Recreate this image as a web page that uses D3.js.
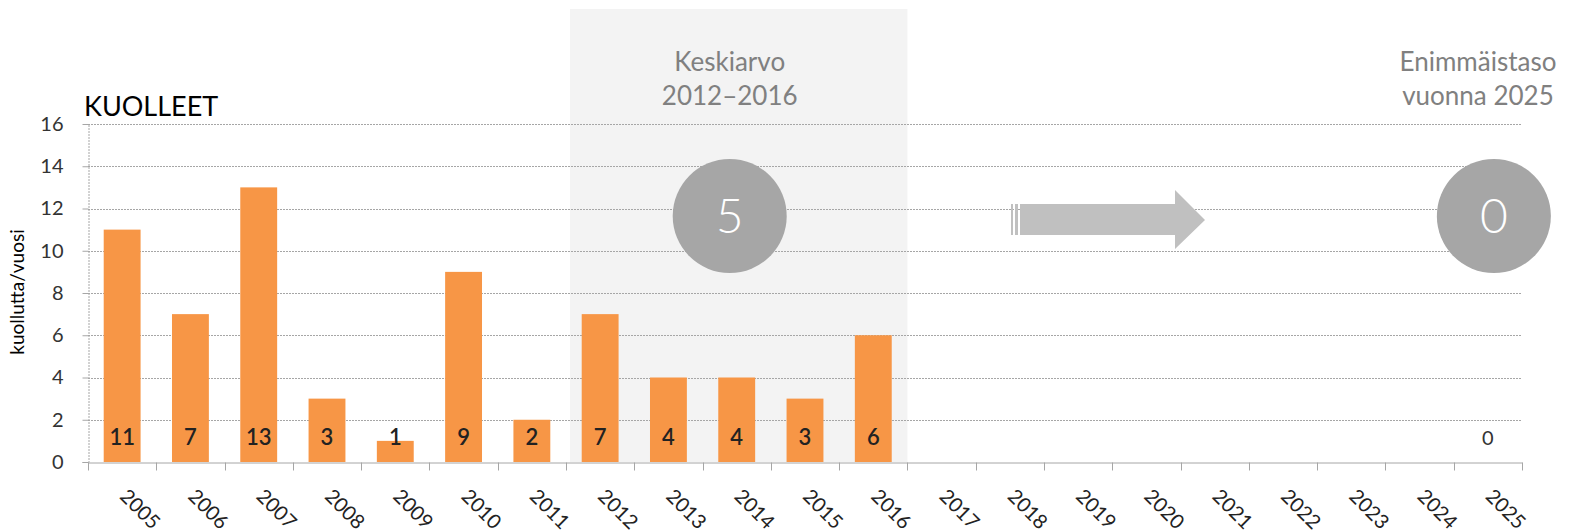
<!DOCTYPE html>
<html>
<head>
<meta charset="utf-8">
<script src="https://cdn.jsdelivr.net/npm/d3@7"></script>
<style>
  body { margin: 0; background: #fff; }
  svg text { font-family: Lato, "Open Sans", sans-serif; }
</style>
</head>
<body>
<div id="chart"></div>
<script>
const width = 1569;
const height = 532;

// data
var years = ["2005", "2006", "2007", "2008", "2009", "2010", "2011", "2012", "2013", "2014", "2015",
  "2016", "2017", "2018", "2019", "2020", "2021", "2022", "2023", "2024", "2025"];
var deaths = [11, 7, 13, 3, 1, 9, 2, 7, 4, 4, 3, 6, null, null, null, null, null, null, null, null, 0];
var yTicks = [0, 2, 4, 6, 8, 10, 12, 14, 16];
var avgYears = ["2012", "2016"];
var avgValue = 5;
var targetYear = "2025";
var targetValue = 0;

var margin = {left: 88, right: 47, top: 124, bottom: 70};

var xScale = d3.scaleBand()
  .domain(years)
  .range([margin.left, width - margin.right])
  .paddingInner(0.46)
  .paddingOuter(0.23);
var xBand = d3.scaleBand().domain(years).range([margin.left, width - margin.right]);
var yScale = d3.scaleLinear().domain([0, 16]).range([height - margin.bottom, margin.top]);

var svg = d3.select("#chart").append("svg")
  .attr("width", width)
  .attr("height", height);

// shaded average period
var x0 = xBand(avgYears[0]);
var x1 = xBand(avgYears[1]) + xBand.bandwidth();
svg.append("rect")
  .attr("x", x0 + 4)
  .attr("y", 9)
  .attr("width", x1 - x0 - 4)
  .attr("height", yScale(0) - 9)
  .attr("fill", "#f3f3f3");

// grid lines
svg.append("g").selectAll("line")
  .data(yTicks.filter(d => d > 0))
  .enter().append("line")
  .attr("x1", margin.left)
  .attr("x2", width - margin.right)
  .attr("y1", d => Math.round(yScale(d)) + 0.5)
  .attr("y2", d => Math.round(yScale(d)) + 0.5)
  .attr("stroke", "#a6a6a6")
  .attr("stroke-dasharray", "2,1");

// y axis
var yAxis = d3.axisLeft(yScale).tickValues(yTicks).tickSize(6).tickPadding(19);
var gy = svg.append("g")
  .attr("transform", "translate(" + (margin.left + 0.5) + ",0)")
  .call(yAxis);
gy.select(".domain").attr("stroke", "#a6a6a6").attr("stroke-dasharray", "2,1");
gy.selectAll(".tick line").attr("stroke", "#a6a6a6");
gy.selectAll(".tick text")
  .attr("fill", "#333")
  .style("font-size", "20px");

// x axis: ticks on category boundaries
var xAxis = d3.axisBottom(xBand).tickSize(0).tickFormat("");
var gx = svg.append("g")
  .attr("transform", "translate(0," + (Math.round(yScale(0)) + 0.5) + ")")
  .call(xAxis);
gx.select(".domain").attr("stroke", "#a6a6a6");
gx.append("g").selectAll("line")
  .data(years.concat(["end"]))
  .enter().append("line")
  .attr("x1", (d, i) => Math.round(margin.left + i * xBand.step()) + 0.5)
  .attr("x2", (d, i) => Math.round(margin.left + i * xBand.step()) + 0.5)
  .attr("y1", 0)
  .attr("y2", 8)
  .attr("stroke", "#a6a6a6");

// x labels rotated
svg.append("g").selectAll("text")
  .data(years)
  .enter().append("text")
  .attr("transform", d => "translate(" + (xBand(d) + xBand.bandwidth() / 2 + 18) + ",509) rotate(45)")
  .attr("text-anchor", "middle")
  .attr("dy", "0.35em")
  .style("font-size", "20px")
  .attr("fill", "#222")
  .text(d => d);

// bars
svg.append("g").selectAll("rect")
  .data(years.map((y, i) => ({year: y, v: deaths[i]})).filter(d => d.v))
  .enter().append("rect")
  .attr("x", d => xScale(d.year))
  .attr("y", d => yScale(d.v))
  .attr("width", xScale.bandwidth())
  .attr("height", d => yScale(0) - yScale(d.v))
  .attr("fill", "#f79646");

// bar value labels
svg.append("g").selectAll("text")
  .data(years.map((y, i) => ({year: y, v: deaths[i]})).filter(d => d.v !== null))
  .enter().append("text")
  .attr("x", d => xBand(d.year) + xBand.bandwidth() / 2)
  .attr("y", 445)
  .attr("text-anchor", "middle")
  .attr("fill", d => d.v === 0 ? "#333" : "#222")
  .style("font-size", d => d.v === 0 ? "20px" : "22px")
  .style("font-weight", d => d.v === 0 ? "normal" : "600")
  .text(d => d.v);

// title and axis label
svg.append("text")
  .attr("x", 84)
  .attr("y", 116)
  .style("font-size", "27px")
  .attr("fill", "#000")
  .text("KUOLLEET");

svg.append("text")
  .attr("transform", "translate(24,292) rotate(-90)")
  .attr("text-anchor", "middle")
  .style("font-size", "19px")
  .attr("fill", "#000")
  .text("kuollutta/vuosi");

// average annotation
var avgX = (x0 + x1) / 2 - 7;
svg.append("text").attr("x", avgX).attr("y", 71).attr("text-anchor", "middle")
  .style("font-size", "26px").attr("fill", "#808080").text("Keskiarvo");
svg.append("text").attr("x", avgX).attr("y", 105).attr("text-anchor", "middle")
  .style("font-size", "26px").attr("fill", "#808080").text(avgYears[0] + "–" + avgYears[1]);
svg.append("circle").attr("cx", avgX).attr("cy", 216).attr("r", 57).attr("fill", "#a6a6a6");
svg.append("text").attr("x", avgX).attr("y", 216).attr("dy", "0.36em").attr("text-anchor", "middle")
  .style("font-size", "48px").style("font-weight", 300).attr("fill", "#fff").text(avgValue);

// target annotation
var tX = xBand(targetYear) + xBand.bandwidth() / 2 + 6;
svg.append("text").attr("x", 1478).attr("y", 71).attr("text-anchor", "middle")
  .style("font-size", "26px").attr("fill", "#808080").text("Enimmäistaso");
svg.append("text").attr("x", 1478).attr("y", 105).attr("text-anchor", "middle")
  .style("font-size", "26px").attr("fill", "#808080").text("vuonna " + targetYear);
svg.append("circle").attr("cx", tX).attr("cy", 216).attr("r", 57).attr("fill", "#a6a6a6");
svg.append("text").attr("x", tX).attr("y", 216).attr("dy", "0.36em").attr("text-anchor", "middle")
  .style("font-size", "48px").style("font-weight", 300).attr("fill", "#fff").text(targetValue);

// arrow
var arrow = svg.append("g").attr("fill", "#c0c0c0");
arrow.append("rect").attr("x", 1011).attr("y", 204).attr("width", 2).attr("height", 31);
arrow.append("rect").attr("x", 1015).attr("y", 204).attr("width", 3).attr("height", 31);
arrow.append("path")
  .attr("d", "M1020,204 L1175,204 L1175,190 L1205,220 L1175,249 L1175,235 L1020,235 Z");
</script>
</body>
</html>
